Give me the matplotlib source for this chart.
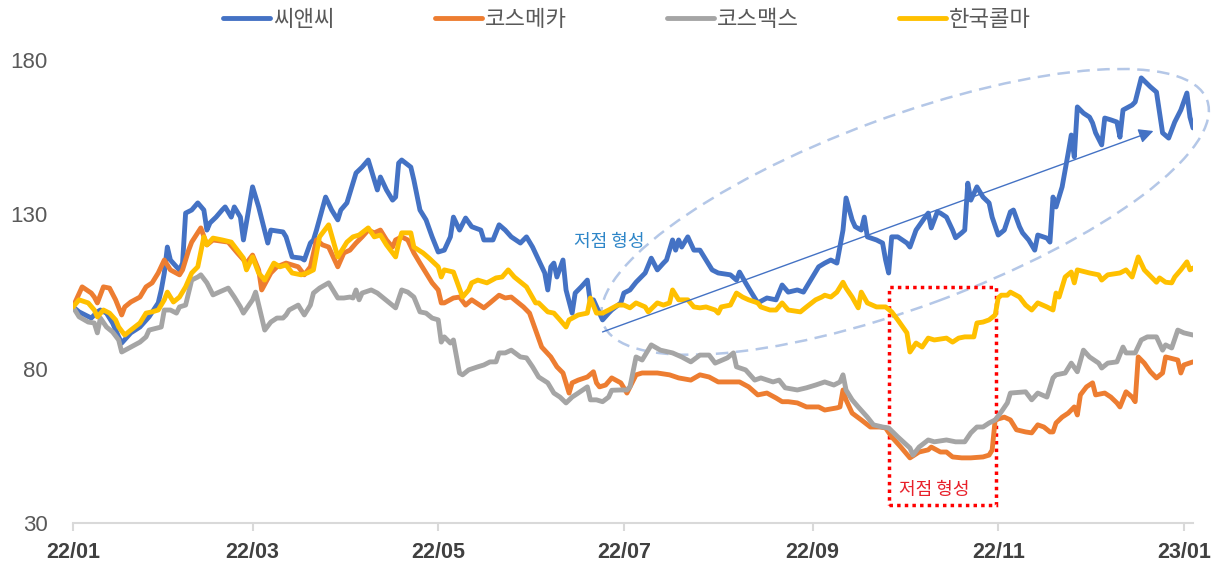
import numpy as np
import matplotlib.pyplot as plt
import matplotlib.dates as mdates
from matplotlib.patches import Ellipse, Rectangle
from matplotlib.transforms import ScaledTranslation

plt.rcParams['font.family'] = ['Liberation Sans', 'Noto Sans CJK KR']

# index (start = 100), x = trading day offset from 2022-01-03
start = np.datetime64('2022-01-03')
names = ['씨앤씨', '코스메카', '코스맥스', '한국콜마']
colors = ['#4472C4', '#ED7D31', '#A5A5A5', '#FFC000']
tick_dates = ['2022-01-03', '2022-03-03', '2022-05-03', '2022-07-03',
              '2022-09-03', '2022-11-03', '2023-01-03']
tick_labels = ['22/01', '22/03', '22/05', '22/07', '22/09', '22/11', '23/01']

cnc = [(0,100),(2,98.4),(6,96.4),(8,98.4),(9,99),(11,98),(13,94.8),(15,90.3),(16,88.3),(19,91.6),
       (22,93.5),(25,96.8),(28,101.3),(29,105.5),(30,111),(31,119.4),(32,115.2),(34,113),(35,112),
       (36,114.2),(37,130.4),(39,131.4),(41,133.7),(43,131.4),(44,124.9),(45,127.2),(47,129.1),
       (49,131.4),(50,132.4),(52,129.1),(53,132.4),(55,129.1),(56,121.7),(59,138.9),(61,132.4),
       (64,120.7),(65,124.9),(69,124.3),(70,122.7),(72,116.2),(75,115.8),(76,115.2),(78,120.7),
       (79,121.7),(80,124.9),(83,135.6),(85,131.4),(87,128.2),(88,131.4),(90,133.7),(91,136.9),
       (93,143.4),(95,145.3),(97,147.6),(100,137.9),(101,142.1),(103,137.9),(105,134.6),(106,135.6),
       (107,146.6),(108,147.6),(111,145.3),(112,141.1),(114,131.4),(116,128.2),(118,122.7),
       (120,117.8),(122,118.4),(124,122.7),(125,129.1),(127,124.9),(129,128.8),(131,126),
       (134,124.9),(135,121.7),(138,121.7),(140,126.6),(142,124.9),(144,122.7),(147,120.7),
       (149,122.7),(151,119.4),(153,115.2),(155,111),(156,105.5),(157,113),(158,114.2),(159,109.7),
       (161,115.2),(162,105.5),(164,98),(165,104.5),(167,106.5),(169,108.7),(170,101.3),(171,102.3),
       (173,98),(174,95.8),(176,98),(177,99),(180,101.3),(181,104.5),(183,105.5),(185,108),
       (188,111),(190,115.8),(192,112),(194,114.2),(195,115.2),(197,121.7),(198,118.4),(199,121.7),
       (200,119.4),(202,122.7),(204,118.4),(206,118.4),(208,115.2),(210,112),(212,111),(216,110.4),
       (218,108.7),(219,111.3),(221,107.8),(223,104.5),(225,101.3),(228,102.9),(231,102.3),
       (233,107.1),(235,104.8),(238,105.5),(240,104.8),(243,109.7),(245,113),(247,114.2),
       (249,115.2),(251,114.2),(253,124.9),(254,135.3),(256,128.2),(257,126),(259,124.9),
       (260,129.1),(261,122.7),(264,121.7),(266,120.7),(267,115.2),(268,111),(269,122.7),
       (271,122.7),(274,120.7),(275,119.4),(277,124.9),(280,129.1),(281,130.4),(282,125.6),
       (284,130.8),(285,130.4),(287,129.1),(289,124.9),(290,122.4),(292,124),(293,124.9),
       (294,140.1),(295,134.6),(297,138.9),(299,135.6),(301,133.7),(302,129.1),(304,123.3),
       (306,124.9),(308,130.8),(309,131.4),(311,126),(312,124),(314,121.7),(316,118.4),
       (317,123.3),(320,122.3),(321,121),(322,135.6),(323,132.4),(325,138.9),(327,149.9),
       (328,155.7),(329,148.6),(330,164.8),(332,162.8),(334,161.5),(335,159.6),(336,156.4),
       (338,152.5),(339,161.2),(341,160.6),(343,159.9),(344,155),(345,163.8),(348,165.4),
       (349,166.4),(351,174.2),(354,171.3),(356,169.6),(358,156.4),(360,154.7),(362,159.9),
       (364,163.8),(366,169.3),(367,161.5),(368,158)]

cosmecca = [(0,100),(3,106.5),(6,104.5),(7,103.2),(8,101.3),(10,106.5),(12,106.1),(14,102.3),
            (16,97.4),(17,100),(19,101.6),(22,103.2),(24,106.5),(26,107.8),(28,111),(30,115.2),
            (32,112),(35,110.4),(36,112),(38,118.4),(39,121),(42,125.6),(44,120.1),(46,121.7),
            (51,121),(54,117.5),(57,114.2),(59,116.8),(61,112),(62,105.5),(65,111),(67,113),
            (70,114.2),(74,113),(76,110.4),(78,113),(80,121.7),(82,120.1),(84,119.4),(87,113),
            (89,117.5),(91,118.4),(93,120.7),(95,122.7),(97,124.9),(99,124),(101,124.9),(103,121.7),
            (105,119.4),(106,121.7),(108,122.7),(110,121.7),(112,117.5),(114,114.2),(116,111),
            (118,107.8),(120,105.5),(121,101.3),(122,101.3),(125,102.9),(127,103.2),(129,100.6),
            (131,102.3),(135,99.7),(137,101.3),(140,103.8),(142,102.9),(144,103.2),(148,100),
            (150,98),(152,92.5),(154,87),(157,83.8),(159,80.6),(161,78.6),(163,72.1),(164,75.4),
            (166,76.3),(169,77.3),(171,79),(172,75.4),(173,74.1),(175,74.7),(177,77),(180,75.4),
            (182,72.1),(185,78),(187,78.6),(192,78.6),(196,78),(199,77),(203,76.3),(206,78),
            (209,77.3),(212,75.7),(216,75.7),(219,75.7),(222,74.1),(225,71.5),(228,72.1),
            (231,70.5),(233,69.3),(235,69.3),(238,68.9),(241,67.6),(245,67.6),(247,66.6),
            (251,67.3),(252,67.6),(253,73.1),(254,69.9),(256,65.6),(259,63.4),(262,61.1),
            (265,61.1),(267,60.8),(269,57.9),(272,54.6),(275,51.1),(278,53),(281,53.7),(282,54.6),
            (285,53),(287,53),(289,51.4),(292,51.1),(295,51.1),(299,51.4),(301,52),(302,53.6),
            (303,63.4),(306,64.3),(308,63.4),(310,60.2),(313,59.5),(315,59.2),(317,61.8),
            (319,61.1),(321,59.5),(322,59.5),(323,62.4),(325,64.3),(327,65.6),(329,67.6),(330,65),
            (331,71.5),(333,74.1),(335,75.4),(336,71.5),(339,72.1),(341,70.8),(343,68.9),
            (344,67.6),(346,72.5),(348,70.8),(349,69.3),(350,83.8),(352,81.8),(354,79),(356,77),
            (358,78.6),(359,83.8),(363,82.8),(364,78.6),(365,81.2),(368,82.2)]

cosmax = [(0,100),(2,96.8),(5,95.1),(7,94.8),(8,91.6),(9,96.4),(11,93.5),(13,91.9),(15,89.3),
          (16,85.4),(19,87),(22,88.6),(24,90.3),(25,92.5),(29,93.5),(30,99),(32,99),(34,98),
          (35,100),(37,100.6),(39,108.7),(41,109.7),(42,110.4),(44,107.8),(46,103.9),(48,104.8),
          (51,106.1),(53,103.2),(55,100),(56,98),(59,102.3),(60,104.8),(63,92.5),(65,95.1),
          (67,96.4),(69,96.4),(70,97.4),(71,99),(74,100.6),(76,97.4),(78,100.6),(79,104.5),
          (81,106.1),(84,107.8),(87,102.9),(89,102.9),(91,103.2),(92,102.9),(93,105.5),(94,102.3),
          (95,104.5),(98,105.5),(100,104.5),(102,102.9),(104,101.3),(106,99.7),(108,105.5),
          (110,104.8),(112,103.2),(114,98.4),(116,98),(118,96.4),(120,95.8),(121,88.6),(122,90.3),
          (124,88.3),(125,89.3),(127,78.6),(128,78),(130,79.6),(133,80.6),(135,81.2),(137,82.2),
          (139,82.2),(140,85.1),(142,85.1),(144,86),(147,83.8),(149,83.5),(151,80.6),(153,77.3),
          (156,75.4),(158,72.1),(160,70.8),(162,68.9),(164,70.8),(166,72.1),(169,74.1),(170,69.9),
          (172,69.9),(174,69.3),(176,70.8),(177,73),(180,73.1),(182,73.1),(183,74.1),(185,83.8),
          (187,82.8),(190,87.7),(193,86),(197,85.1),(200,83.8),(203,82.2),(206,84.4),(209,84.4),
          (211,81.8),(215,83.5),(217,85.1),(218,80.6),(221,79.6),(224,76.3),(226,77),(230,75.7),
          (232,76.3),(234,73.8),(238,73.1),(241,73.8),(244,74.7),(247,75.7),(250,74.7),(252,75.7),
          (253,78),(254,73.1),(256,69.9),(258,67.6),(261,64.3),(263,61.8),(266,61.1),(268,60.8),
          (271,57.9),(275,54.3),(276,52),(278,54.6),(281,56.9),(283,56.3),(287,56.9),(290,56.3),
          (293,56.3),(295,59.2),(297,61.1),(299,61.1),(301,62.4),(303,63.4),(305,66),(307,68.9),
          (308,72.1),(313,72.5),(315,69.9),(317,72.1),(320,70.8),(322,77),(323,78),(326,78.6),
          (328,81.8),(330,79),(332,86),(334,83.8),(337,81.8),(338,80.2),(340,81.8),(343,82.2),
          (345,87),(346,85.1),(349,85.1),(351,89.3),(353,90.3),(356,90.3),(358,86),(359,87.7),
          (361,86.7),(363,92.5),(365,91.6),(368,90.9)]

kolmar = [(0,100),(2,102.3),(5,101.3),(7,99),(8,96.8),(10,99),(12,98),(14,95.8),(15,93.5),
          (17,90.9),(19,92.5),(22,94.8),(24,98),(26,98.4),(28,99),(30,102.3),(31,104.8),(33,101.6),
          (35,103.2),(37,106.5),(39,111),(41,113),(43,122.7),(44,120.1),(46,122.3),(49,121.7),
          (52,121),(54,118.4),(56,115.8),(57,112),(59,116.2),(61,111),(63,108.7),(66,114.2),
          (68,113),(70,113.6),(72,111),(75,110.4),(77,111),(79,112),(81,122.7),(84,126.6),
          (87,116.2),(90,121),(92,122.7),(94,123.3),(97,125.6),(99,122.7),(101,123.3),(103,120.1),
          (106,116.2),(107,120.7),(108,124),(111,124),(112,119.4),(115,117.5),(117,115.8),(120,113),
          (121,109.7),(122,112),(125,111.3),(128,103.2),(130,105.5),(131,107.8),(133,108.7),
          (136,107.8),(139,109.4),(141,109.7),(143,112),(145,109.7),(147,108.1),(149,106.5),
          (152,101.3),(153,101.3),(156,98.4),(158,98),(160,95.8),(162,93.5),(163,95.8),(166,97.4),
          (169,98),(170,102.9),(172,98),(174,98),(176,99),(179,100.6),(181,100.6),(183,99.7),
          (185,101.3),(188,100),(189,98.4),(192,101.3),(194,100.6),(196,101.3),(197,105.5),
          (199,102.3),(202,102.3),(204,100),(206,99.7),(208,100),(211,99),(212,98),(213,100),
          (216,100.6),(218,104.5),(220,103.2),(222,102.3),(225,101.3),(226,100),(229,99),(231,99),
          (233,101.3),(235,99),(239,98.4),(241,100),(244,102.3),(246,103.2),(247,103.8),
          (249,103.2),(251,104.8),(253,108),(254,106.1),(256,103.2),(258,99.7),(259,104.8),
          (261,101.3),(264,100),(267,100),(269,98.4),(271,95.8),(274,91.6),(275,85.4),(277,88.3),
          (279,87),(281,89.9),(283,89.3),(287,89.9),(289,88.6),(291,89.9),(293,90.3),(296,90.3),
          (297,94.8),(299,95.1),(301,95.8),(303,97.4),(304,102.9),(305,103.8),(307,103.8),
          (308,104.8),(311,103.2),(313,100.6),(315,99),(317,101.3),(320,100),(322,99),(323,104.5),
          (324,103.2),(326,109.7),(328,111.3),(329,107.8),(330,112),(334,111),(337,110.4),
          (338,108.7),(340,110.4),(344,111),(346,112),(348,109.7),(350,116.2),(352,112),(356,108),
          (357,109.4),(359,108),(361,107.8),(362,109.7),(364,112),(366,114.6),(367,112),(368,112.6)]

series = [cnc, cosmecca, cosmax, kolmar]

fig = plt.figure(figsize=(12.25, 5.68), dpi=100)
ax = fig.add_axes([73/1225, 45/568, 1120/1225, 463/568])

for name, pts, c in zip(names, series, colors):
    d, v = zip(*pts)
    ax.plot(start + np.array(d), v, color=c, lw=3.5, label=name,
            solid_joinstyle='round', solid_capstyle='round')

x0 = mdates.date2num(start)
ax.set_xlim(x0, x0 + 368)
ax.set_ylim(30, 180)
ax.set_yticks([30, 80, 130, 180])
ax.set_xticks([mdates.date2num(np.datetime64(t)) for t in tick_dates])
ax.set_xticklabels(tick_labels, fontweight='bold')

for s in ['top', 'right', 'left']:
    ax.spines[s].set_visible(False)
ax.spines['bottom'].set_color('#D9D9D9')
ax.spines['bottom'].set_linewidth(1.5)
ax.tick_params(axis='x', colors='#D9D9D9', length=6, width=1.5, pad=8,
               labelsize=15.5, labelcolor='#404040')
ax.tick_params(axis='y', length=0, pad=18, labelsize=16, labelcolor='#595959')

# dashed ellipse around the uptrend
ell = Ellipse((0, 0), 6.44, 1.90, angle=20.3, fill=False, ec='#B4C7E7', lw=1.8,
              ls=(0, (5, 3)), clip_on=False,
              transform=fig.dpi_scale_trans + ScaledTranslation(x0 + 273.4, 130.8, ax.transData))
ax.add_patch(ell)

ax.annotate('', xy=(x0 + 355, 157), xytext=(x0 + 174, 91.9),
            arrowprops=dict(arrowstyle='-|>', color='#4472C4', lw=1,
                            mutation_scale=22, shrinkA=0, shrinkB=0))
ax.text(x0 + 176.2, 121, '저점 형성', color='#2E86C8', fontsize=13,
        ha='center', va='center', family=['Noto Sans CJK KR'])

# red dotted box
ax.add_patch(Rectangle((x0 + 268.1, 35.8), 35.1, 70.7, fill=False, ec='#FF0000',
                       lw=2.5, ls=(0, (1, 1.2))))
ax.text(x0 + 282.9, 40.7, '저점 형성', color='#E8202A', fontsize=13,
        ha='center', va='center', family=['Noto Sans CJK KR'])

fig.legend(loc='center', bbox_to_anchor=(0.512, 0.966), ncol=4, frameon=False,
           handlelength=2.1, handletextpad=0.15, columnspacing=4.5,
           labelcolor='#595959', prop={'family': ['Noto Sans CJK KR'], 'size': 16})

fig.savefig('out.png', dpi=100)
